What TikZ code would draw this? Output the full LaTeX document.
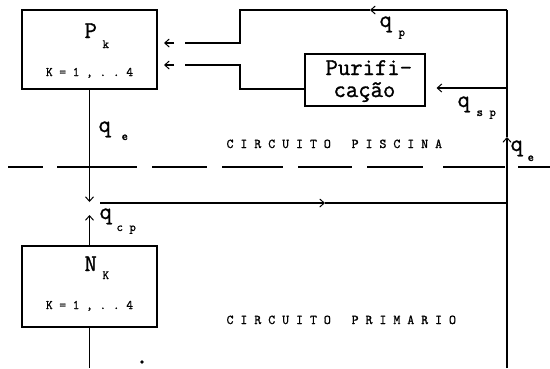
\documentclass[tikz,border=0pt]{standalone}
\usepackage{fontspec}
\setmonofont{Latin Modern Mono}[AutoFakeBold=1.2]
\usetikzlibrary{arrows.meta}
\begin{document}
\begin{tikzpicture}[x=1pt,y=-1pt,
  line width=1.1pt,
  box/.style={draw, rectangle, inner sep=0pt},
  arr/.style={-{Straight Barb[length=4.5pt,width=8pt,line width=1pt]}},
  lbl/.style={inner sep=0pt, anchor=base west, font=\ttfamily\bfseries\fontsize{13.5}{13.5}\selectfont},
  kl/.style={inner sep=0pt, anchor=base, font=\ttfamily\bfseries\fontsize{13}{13}\selectfont},
  big/.style={inner sep=0pt, anchor=base west, font=\ttfamily\bfseries\fontsize{24}{24}\selectfont},
  pur/.style={inner sep=0pt, anchor=base west, font=\ttfamily\bfseries\fontsize{24}{24}\selectfont},
  sub/.style={inner sep=0pt, anchor=base west, font=\ttfamily\bfseries\fontsize{12.5}{12.5}\selectfont},
  dsh/.style={line width=1.3pt}]
\useasboundingbox (0,0) rectangle (550,368);

% boxes
\node[box, minimum width=135pt, minimum height=79pt] (pk) at (89.5,49.5) {};
\node[box, minimum width=135pt, minimum height=81pt] (nk) at (89.5,286.5) {};
\node[box, minimum width=120pt, minimum height=52pt] (pu) at (365,80) {};

% box texts
\node[big] (pkP) at (84,38) {P};
\node[sub] (pkk) at (102,48) {k};
\node[kl] (pkK) at (89.5,76) {K = 1 , . . 4};
\node[big] (nkN) at (84,271) {N};
\node[sub] (nkK) at (102,279) {K};
\node[kl] (nkKK) at (89.5,309) {K = 1 , . . 4};
\node[pur] (pu1) at (325,75) {Purifi-};
\node[pur] (pu2) at (333,97) {cação};

% flow labels
\node[big] (qe1) at (98,132) {q};
\node[sub] (qe1s) at (121,140) {e};
\node[big] (qp) at (379,27) {q};
\node[sub] (qps) at (398,36) {p};
\node[big] (qsp) at (457,107) {q};
\node[sub] (qsps) at (476,116) {s p};
\node[big] (qe2) at (510,151) {q};
\node[sub] (qe2s) at (527,161) {e};
\node[big] (qcp) at (99,219) {q};
\node[sub] (qcps) at (116,231) {c p};

% region labels
\node[lbl] (cpis) at (226,148) {C~I~R~C~U~I~T~O~~~P~I~S~C~I~N~A};
\node[lbl] (cpri) at (226,324) {C~I~R~C~U~I~T~O~~~P~R~I~M~A~R~I~O};

% coordinates
\coordinate (dtip) at (89.5,202);
\coordinate (hl) at (100,203);
\coordinate (hm) at (325,203);
\coordinate (hr) at (507,203);
\coordinate (utip) at (89.5,215);
\coordinate (nbot) at (89.5,368);
\coordinate (rb) at (507,368);
\coordinate (rm) at (507,137);
\coordinate (rt) at (507,10);
\coordinate (tm) at (370,10);
\coordinate (tl) at (240,10);
\coordinate (a1) at (240,43);
\coordinate (a1l) at (185,43);
\coordinate (s1) at (174,43);
\coordinate (e1) at (164,43);
\coordinate (b1) at (240,89);
\coordinate (b2) at (240,65);
\coordinate (b3) at (185,65);
\coordinate (s2) at (174,65);
\coordinate (e2) at (164,65);
\coordinate (pr) at (507,88);

% connectors
\draw[arr] (pk.south) -- (dtip);
\draw[arr] (hl) -- (hm);
\draw (hm) -- (hr);
\draw[arr] (nk.north) -- (utip);
\draw (nk.south) -- (nbot);
\draw[arr] (rb) -- (rm);
\draw (rm) -- (rt);
\draw[arr] (rt) -- (tm);
\draw (tm) -- (tl) -- (a1) -- (a1l);
\draw[arr] (s1) -- (e1);
\draw ([yshift=-9pt]pu.west) -- (b1) -- (b2) -- (b3);
\draw[arr] (s2) -- (e2);
\draw[arr] (pr) -- ([xshift=11pt,yshift=-8pt]pu.east);

% dashed boundary
\foreach \a/\b in {8/43,57/137,152/207,222/283,298/352,367/423,443/505,518/550}
  \draw[dsh] (\a,167) -- (\b,167);

% dot
\fill (142,362) circle (1.8pt);
\end{tikzpicture}
\end{document}
